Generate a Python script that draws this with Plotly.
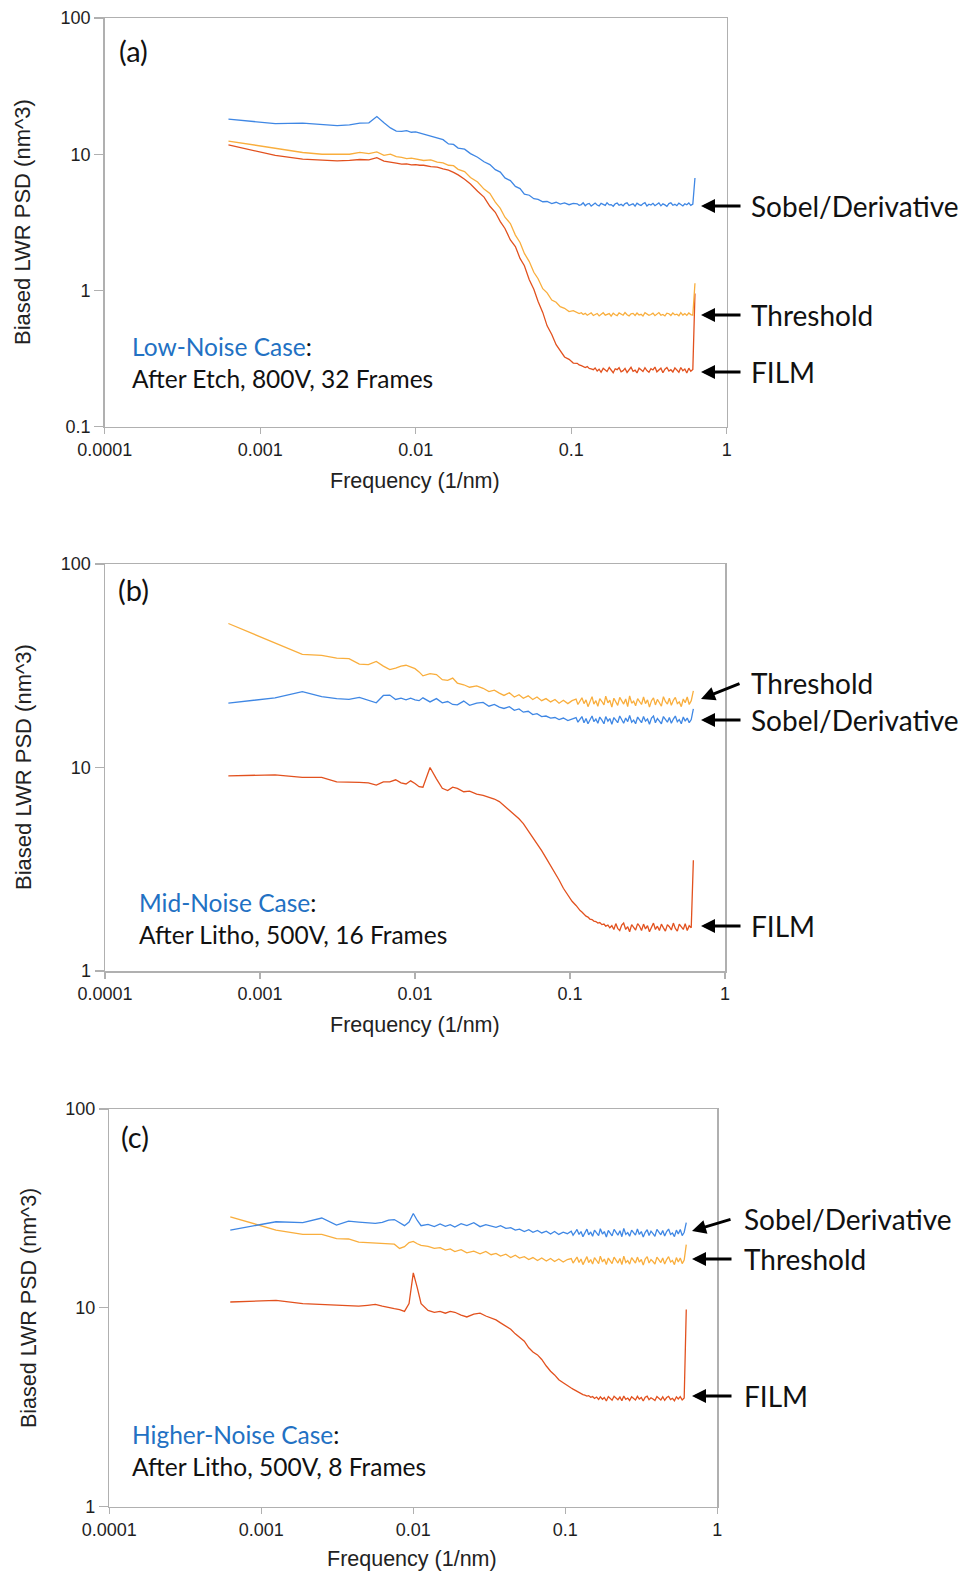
import plotly.graph_objects as go

# ---------------- data ----------------
RECORD_LENGTH_NM = 1600.0   # frequency step = 1/1600 nm^-1
K_INDEX = [
    1, 2, 3, 4, 5, 6, 7, 8, 9, 10, 11, 12, 13, 14, 15, 16, 17,
    18, 20, 22, 24, 26, 28, 30, 33, 36, 40, 44, 48, 52, 56, 60, 65, 70, 75, 80, 86,
    92, 98, 105, 112, 120, 128, 136, 145, 155, 165,
    175, 180, 186, 191, 197, 203, 209, 215, 222, 228,
    235, 242, 249, 257, 265, 272, 281, 289, 298, 307,
    316, 325, 335, 345, 355, 366, 377, 388, 400, 412,
    424, 437, 450, 463, 477, 491, 506, 521, 537, 553,
    569, 586, 604, 622, 641, 660, 680, 700, 721, 743,
    765, 788, 811, 836, 861, 886, 913, 940, 969, 1000,
]
FREQ = [k / RECORD_LENGTH_NM for k in K_INDEX]

X_TICK_VALS = [0.0001, 0.001, 0.01, 0.1, 1]
X_TICK_TEXT = ["0.0001", "0.001", "0.01", "0.1", "1"]
Y_TICK_VALS_A = [0.1, 1, 10, 100]
Y_TICK_TEXT_A = ["0.1", "1", "10", "100"]
Y_TICK_VALS_BC = [1, 10, 100]
Y_TICK_TEXT_BC = ["1", "10", "100"]

# Panel (a): Low-noise case
A_SOBEL = [
    18.1, 16.8, 16.9, 16.6, 16.2, 16.4, 16.9, 17.0, 18.9, 17.0, 15.6, 14.8, 14.7, 14.9, 14.5, 14.6, 14.3,
    14.2, 13.6, 13.1, 12.8, 11.9, 11.8, 11.1, 10.9, 10.1, 9.5, 8.8, 8.4, 7.7, 7.4, 6.7, 6.4, 5.8, 5.6, 5.1, 5.0,
    4.72, 4.66, 4.48, 4.50, 4.34, 4.44, 4.30, 4.39, 4.26, 4.36,
    4.33, 4.22, 4.27, 4.40, 4.19, 4.31, 4.35, 4.16, 4.28, 4.38,
    4.24, 4.18, 4.36, 4.29, 4.21, 4.41, 4.25, 4.27, 4.15, 4.33,
    4.38, 4.22, 4.29, 4.18, 4.34, 4.40, 4.20, 4.26, 4.32, 4.16,
    4.37, 4.27, 4.21, 4.33, 4.41, 4.17, 4.30, 4.24, 4.36, 4.19,
    4.28, 4.39, 4.18, 4.32, 4.25, 4.15, 4.34, 4.40, 4.22, 4.29,
    4.19, 4.37, 4.27, 4.17, 4.33, 4.26, 4.39, 4.21, 4.30, 6.70,
]
A_THRESH = [
    12.5, 11.0, 10.3, 10.0, 10.0, 10.0, 10.3, 10.1, 10.4, 9.8, 10.0, 9.6, 9.5, 9.3, 9.35, 9.2, 9.1,
    9.0, 9.1, 8.75, 8.65, 8.3, 8.25, 7.75, 7.45, 6.75, 6.25, 5.55, 5.15, 4.45, 4.0, 3.45, 3.1, 2.55, 2.25, 1.87, 1.63,
    1.36, 1.22, 1.03, 0.96, 0.85, 0.82, 0.76, 0.74, 0.70, 0.71,
    0.692, 0.676, 0.686, 0.666, 0.679, 0.658, 0.672, 0.684, 0.655, 0.670,
    0.678, 0.650, 0.665, 0.686, 0.659, 0.670, 0.676, 0.648, 0.681, 0.663,
    0.654, 0.684, 0.669, 0.658, 0.689, 0.663, 0.651, 0.673, 0.679, 0.656,
    0.683, 0.660, 0.668, 0.649, 0.686, 0.674, 0.657, 0.666, 0.682, 0.653,
    0.671, 0.688, 0.658, 0.667, 0.650, 0.681, 0.675, 0.655, 0.684, 0.662,
    0.669, 0.652, 0.688, 0.660, 0.676, 0.656, 0.683, 0.665, 0.659, 1.13,
]
A_FILM = [
    11.7, 9.8, 9.2, 9.0, 8.95, 9.0, 9.15, 9.1, 9.45, 8.9, 8.8, 8.6, 8.45, 8.5, 8.35, 8.4, 8.3,
    8.3, 8.1, 8.05, 7.8, 7.65, 7.35, 7.05, 6.55, 6.05, 5.35, 4.85, 4.15, 3.75, 3.2, 2.85, 2.35, 2.1, 1.72, 1.52, 1.2,
    1.02, 0.83, 0.69, 0.55, 0.475, 0.40, 0.365, 0.325, 0.312, 0.293,
    0.292, 0.284, 0.281, 0.275, 0.272, 0.276, 0.268, 0.266, 0.262, 0.270,
    0.256, 0.264, 0.251, 0.268, 0.261, 0.254, 0.272, 0.259, 0.249, 0.266,
    0.262, 0.271, 0.253, 0.258, 0.268, 0.250, 0.263, 0.273, 0.255, 0.260,
    0.248, 0.269, 0.262, 0.254, 0.271, 0.258, 0.251, 0.267, 0.261, 0.274,
    0.253, 0.259, 0.269, 0.249, 0.264, 0.272, 0.256, 0.262, 0.252, 0.270,
    0.260, 0.251, 0.272, 0.257, 0.265, 0.248, 0.269, 0.255, 0.263, 0.95,
]

# Panel (b): Mid-noise case
B_THRESH = [
    51.0, 41.0, 36.0, 35.6, 34.5, 34.3, 32.2, 32.0, 33.2, 31.5, 30.3, 30.8, 31.5, 31.8, 31.2, 30.6, 29.5,
    28.2, 28.9, 28.6, 27.0, 26.8, 27.5, 26.0, 25.5, 24.8, 25.2, 24.5, 23.6, 24.0, 23.2, 22.6, 23.3, 22.2, 22.8, 21.9, 22.5,
    21.6, 22.2, 21.3, 21.8, 21.0, 21.6, 20.7, 21.4, 20.6, 21.3,
    21.7, 20.4, 21.2, 22.0, 20.6, 21.5, 19.9, 21.0, 22.3, 20.5,
    21.3, 20.0, 21.8, 21.1, 20.3, 22.4, 20.8, 21.4, 19.8, 21.9,
    20.9, 20.2, 22.1, 21.3, 20.5, 21.7, 19.9, 22.5, 20.7, 21.2,
    20.1, 21.8, 21.0, 20.4, 22.2, 20.6, 21.5, 19.8, 21.3, 22.0,
    20.3, 21.6, 20.8, 20.0, 22.3, 21.1, 20.5, 21.9, 20.2, 21.4,
    22.1, 20.6, 21.0, 19.9, 21.7, 20.8, 22.2, 20.4, 21.3, 23.8,
]
B_SOBEL = [
    20.7, 22.0, 23.6, 22.3, 21.8, 21.6, 22.1, 21.4, 20.8, 22.6, 22.7, 21.6, 21.9, 21.5, 21.9, 21.5, 21.3,
    22.0, 21.0, 21.8, 20.8, 21.1, 20.4, 20.3, 21.2, 20.2, 20.7, 20.9, 20.0, 20.4, 19.8, 19.5, 19.9, 19.1, 19.4, 18.7, 18.9,
    18.2, 18.4, 17.8, 17.9, 17.5, 17.6, 17.2, 17.5, 17.0, 17.3,
    17.6, 16.7, 17.2, 17.8, 16.6, 17.4, 16.4, 17.0, 17.9, 16.8,
    17.3, 16.5, 17.7, 17.1, 16.4, 17.8, 16.9, 17.4, 16.3, 17.6,
    17.0, 16.6, 17.9, 17.2, 16.5, 17.5, 16.8, 18.0, 16.7, 17.1,
    16.4, 17.7, 17.2, 16.6, 17.8, 16.9, 17.3, 16.3, 17.5, 17.9,
    16.6, 17.4, 16.9, 16.4, 17.8, 17.1, 16.7, 17.6, 16.5, 17.3,
    17.9, 16.8, 17.2, 16.4, 17.7, 16.9, 17.5, 16.6, 17.2, 19.4,
]
B_FILM = [
    9.1, 9.2, 8.95, 8.95, 8.5, 8.5, 8.45, 8.4, 8.2, 8.5, 8.5, 8.7, 8.4, 8.3, 8.6, 8.35, 8.05,
    8.0, 10.0, 8.8, 7.9, 7.7, 8.0, 7.9, 7.6, 7.65, 7.4, 7.3, 7.15, 7.0, 6.8, 6.5, 6.2, 5.9, 5.6, 5.3, 4.9,
    4.5, 4.2, 3.9, 3.6, 3.3, 3.0, 2.8, 2.55, 2.35, 2.2,
    2.10, 2.04, 1.98, 1.95, 1.90, 1.86, 1.84, 1.80, 1.79, 1.76,
    1.75, 1.72, 1.73, 1.69, 1.70, 1.66, 1.68, 1.63, 1.67, 1.60,
    1.71, 1.62, 1.58, 1.68, 1.72, 1.60, 1.65, 1.56, 1.69, 1.63,
    1.59, 1.71, 1.66, 1.58, 1.70, 1.61, 1.67, 1.56, 1.64, 1.72,
    1.60, 1.66, 1.58, 1.70, 1.63, 1.57, 1.69, 1.65, 1.59, 1.72,
    1.62, 1.57, 1.70, 1.64, 1.60, 1.71, 1.58, 1.67, 1.63, 3.50,
]

# Panel (c): Higher-noise case
C_SOBEL = [
    24.6, 27.1, 26.8, 28.3, 26.1, 27.3, 27.0, 26.8, 26.6, 26.9, 27.6, 27.8, 26.7, 25.9, 27.0, 29.8, 27.5,
    25.9, 26.3, 25.6, 26.4, 25.7, 26.2, 25.5, 26.5, 25.9, 26.8, 25.6, 26.2, 25.7, 25.4, 25.9, 25.1, 25.3, 24.6, 24.9, 24.2,
    24.7, 24.0, 24.5, 23.8, 24.3, 23.5, 24.2, 23.4, 24.0, 23.6,
    24.3, 23.2, 24.0, 24.8, 23.4, 24.2, 22.8, 23.7, 24.9, 23.3,
    24.1, 22.9, 24.6, 23.8, 23.1, 25.0, 23.5, 24.2, 22.7, 24.5,
    23.6, 23.0, 24.8, 24.0, 23.2, 24.4, 22.8, 25.1, 23.4, 23.9,
    22.9, 24.6, 23.8, 23.2, 24.9, 23.4, 24.2, 22.7, 24.0, 24.7,
    23.1, 24.3, 23.6, 22.9, 24.8, 23.9, 23.3, 24.5, 23.0, 24.2,
    24.9, 23.4, 23.8, 22.8, 24.6, 23.5, 24.8, 23.1, 24.0, 26.8,
]
C_THRESH = [
    28.7, 24.6, 23.4, 23.4, 22.3, 22.2, 21.4, 21.3, 21.2, 21.1, 21.0, 20.9, 19.9, 20.3, 21.3, 21.6, 21.0,
    20.6, 20.4, 19.9, 20.1, 19.5, 19.8, 19.2, 19.6, 18.9, 19.3, 18.7, 19.2, 18.5, 18.8, 18.2, 18.6, 17.9, 18.4, 17.8, 18.1,
    17.5, 17.9, 17.3, 17.8, 17.2, 17.7, 17.1, 17.6, 17.0, 17.5,
    17.7, 16.8, 17.4, 18.0, 16.9, 17.6, 16.5, 17.2, 18.1, 16.9,
    17.5, 16.6, 17.9, 17.3, 16.7, 18.2, 17.0, 17.6, 16.5, 17.8,
    17.1, 16.7, 18.0, 17.4, 16.8, 17.7, 16.5, 18.2, 16.9, 17.3,
    16.6, 17.9, 17.4, 16.8, 18.0, 17.0, 17.5, 16.4, 17.6, 18.1,
    16.8, 17.5, 17.1, 16.6, 18.0, 17.3, 16.9, 17.8, 16.6, 17.5,
    18.1, 17.0, 17.3, 16.5, 17.9, 17.0, 17.8, 16.7, 17.4, 20.8,
]
C_FILM = [
    10.7, 10.9, 10.5, 10.4, 10.3, 10.2, 10.2, 10.3, 10.4, 10.2, 10.0, 9.9, 9.8, 9.6, 10.5, 15.0, 12.6,
    10.5, 9.7, 9.5, 9.6, 9.4, 9.6, 9.5, 9.2, 9.0, 9.3, 9.4, 9.1, 8.9, 8.7, 8.4, 8.1, 7.8, 7.4, 7.1, 6.8,
    6.3, 6.0, 5.8, 5.5, 5.1, 4.8, 4.6, 4.35, 4.2, 4.05,
    3.95, 3.90, 3.84, 3.80, 3.74, 3.72, 3.66, 3.64, 3.60, 3.62,
    3.55, 3.58, 3.50, 3.56, 3.46, 3.57, 3.47, 3.54, 3.40, 3.58,
    3.50, 3.43, 3.59, 3.53, 3.45, 3.56, 3.41, 3.60, 3.47, 3.52,
    3.42, 3.57, 3.51, 3.44, 3.59, 3.48, 3.54, 3.40, 3.55, 3.60,
    3.45, 3.53, 3.48, 3.42, 3.58, 3.50, 3.44, 3.57, 3.43, 3.54,
    3.59, 3.46, 3.51, 3.41, 3.57, 3.48, 3.58, 3.44, 3.52, 9.80,
]

for _s in (A_SOBEL, A_THRESH, A_FILM, B_THRESH, B_SOBEL, B_FILM, C_SOBEL, C_THRESH, C_FILM):
    assert len(_s) == len(FREQ), (len(_s), len(FREQ))

# ---------------- styling ----------------
W, H = 964, 1575
BLUE = "#3f87e4"
ORANGE = "#f9ae3d"
RED = "#e2511e"
CASE_BLUE = "#2271c3"
AXIS_GREY = "#b0b0b0"
SANS = "Liberation Sans, Arial, sans-serif"
TICK_FONT = dict(family=SANS, size=18, color="#1e1e1e")
TEXT_FONT_FAMILY = "Lato, Open Sans, sans-serif"


def px(x):
    return x / W


def py(y):
    return 1 - y / H


fig = go.Figure()

panels = [
    dict(xdom=(104.7, 726.7), ydom=(18, 426.7), yrange=(-1, 2),
         ytv=Y_TICK_VALS_A, ytt=Y_TICK_TEXT_A,
         series=[(A_FILM, RED), (A_THRESH, ORANGE), (A_SOBEL, BLUE)]),
    dict(xdom=(105, 725), ydom=(564, 971), yrange=(0, 2),
         ytv=Y_TICK_VALS_BC, ytt=Y_TICK_TEXT_BC,
         series=[(B_FILM, RED), (B_SOBEL, BLUE), (B_THRESH, ORANGE)]),
    dict(xdom=(109.3, 717.3), ydom=(1109, 1506.7), yrange=(0, 2),
         ytv=Y_TICK_VALS_BC, ytt=Y_TICK_TEXT_BC,
         series=[(C_FILM, RED), (C_THRESH, ORANGE), (C_SOBEL, BLUE)]),
]

layout_axes = {}
for i, p in enumerate(panels):
    sfx = "" if i == 0 else str(i + 1)
    for vals, col in p["series"]:
        fig.add_trace(go.Scatter(x=FREQ, y=vals, mode="lines",
                                 line=dict(color=col, width=1.3),
                                 xaxis="x" + sfx, yaxis="y" + sfx,
                                 showlegend=False, hoverinfo="skip"))
    layout_axes["xaxis" + sfx] = dict(
        type="log", range=[-4, 0], domain=[px(p["xdom"][0]), px(p["xdom"][1])],
        anchor="y" + sfx, showline=True, mirror=True, linecolor=AXIS_GREY, linewidth=1.5,
        ticks="outside", ticklen=6, tickwidth=1.3, tickcolor=AXIS_GREY,
        tickvals=X_TICK_VALS, ticktext=X_TICK_TEXT, tickfont=TICK_FONT,
        showgrid=False, zeroline=False, fixedrange=True, automargin=False)
    layout_axes["yaxis" + sfx] = dict(
        type="log", range=list(p["yrange"]),
        domain=[py(p["ydom"][1]), py(p["ydom"][0])],
        anchor="x" + sfx, showline=True, mirror=True, linecolor=AXIS_GREY, linewidth=1.5,
        ticks="outside", ticklen=9, tickwidth=1.3, tickcolor=AXIS_GREY,
        tickvals=p["ytv"], ticktext=p["ytt"], tickfont=TICK_FONT,
        showgrid=False, zeroline=False, fixedrange=True, automargin=False)

fig.update_layout(**layout_axes)

annotations = []


def text(x, y, s, size=24.5, xanchor="left", color="#111111", angle=0, family=TEXT_FONT_FAMILY):
    annotations.append(dict(x=px(x), y=py(y), xref="paper", yref="paper", text=s,
                            showarrow=False, xanchor=xanchor, yanchor="middle",
                            textangle=angle, font=dict(family=family, size=size, color=color)))


def arrow(tip_x, tip_y, tail_x, tail_y):
    annotations.append(dict(x=px(tip_x), y=py(tip_y), xref="paper", yref="paper", text="",
                            showarrow=True, ax=tail_x - tip_x, ay=tail_y - tip_y,
                            axref="pixel", ayref="pixel",
                            arrowhead=2, arrowsize=1.0, arrowwidth=2.8, arrowcolor="#000000",
                            standoff=0, startstandoff=0))


def cased(label):
    return f'<span style="color:{CASE_BLUE}">{label}</span>:'


def axis_titles(xcx, xcy, ycx, ycy, ysize=22):
    text(xcx, xcy, "Frequency (1/nm)", xanchor="center", family=SANS, size=21.5, color="#222222")
    text(ycx, ycy, "Biased LWR PSD (nm^3)", xanchor="center", angle=-90, family=SANS,
         size=ysize, color="#222222")


LABEL_SIZE = 28
PANEL_SIZE = 29

# panel (a)
text(117, 50, "(a)", size=PANEL_SIZE)
text(130, 346, cased("Low-Noise Case"))
text(130, 378, "After Etch, 800V, 32 Frames")
text(749, 206, "Sobel/Derivative", size=LABEL_SIZE)
text(749, 315, "Threshold", size=LABEL_SIZE)
text(749, 372, "FILM", size=LABEL_SIZE)
arrow(701, 206, 742, 206)
arrow(701, 315, 742, 315)
arrow(701, 372, 742, 372)
axis_titles(415, 481, 23, 222)

# panel (b)
text(116, 589, "(b)", size=PANEL_SIZE)
text(137, 902, cased("Mid-Noise Case"))
text(137, 934, "After Litho, 500V, 16 Frames")
text(749, 683, "Threshold", size=LABEL_SIZE)
text(749, 720, "Sobel/Derivative", size=LABEL_SIZE)
text(749, 926, "FILM", size=LABEL_SIZE)
arrow(701, 699, 741, 683)
arrow(701, 720, 742, 720)
arrow(701, 926, 742, 926)
axis_titles(415, 1025, 23, 767)

# panel (c)
text(119, 1136, "(c)", size=PANEL_SIZE)
text(130, 1434, cased("Higher-Noise Case"))
text(130, 1466, "After Litho, 500V, 8 Frames")
text(742, 1219, "Sobel/Derivative", size=LABEL_SIZE)
text(742, 1259, "Threshold", size=LABEL_SIZE)
text(742, 1396, "FILM", size=LABEL_SIZE)
arrow(692, 1231, 732, 1219)
arrow(692, 1259, 733, 1259)
arrow(692, 1396, 733, 1396)
axis_titles(412, 1559, 29, 1308, ysize=21.5)

fig.update_layout(
    width=W, height=H, margin=dict(l=0, r=0, t=0, b=0, pad=0),
    paper_bgcolor="white", plot_bgcolor="white",
    annotations=annotations, showlegend=False,
)

fig.write_html("out.html", config={"displayModeBar": False, "staticPlot": True})
